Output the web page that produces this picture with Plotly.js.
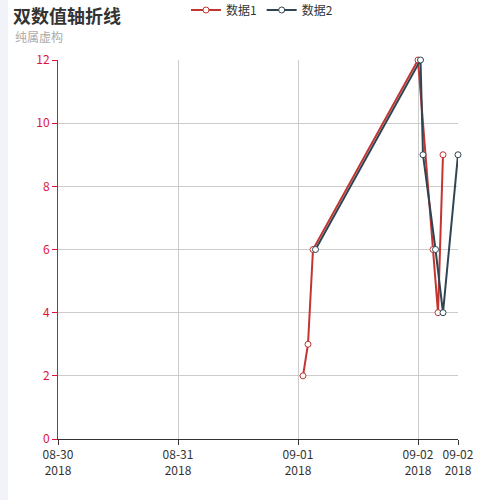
<!DOCTYPE html>
<html>
<head>
<meta charset="utf-8">
<script src="https://cdn.plot.ly/plotly-3.0.1.min.js"></script>
<style>
  html, body { margin: 0; padding: 0; background: #fff; }
  #chart { width: 500px; height: 500px; }
</style>
</head>
<body>
<div id="chart"></div>
<script>
// ── Datos ────────────────────────────────────────────────
const series1Name = '数据1';
const series1Time = ['2018-09-01 01:00', '2018-09-01 02:00', '2018-09-01 03:00',
                     '2018-09-02 00:00', '2018-09-02 03:00', '2018-09-02 04:00', '2018-09-02 05:00'];
const series1Vals = [2, 3, 6, 12, 6, 4, 9];

const series2Name = '数据2';
const series2Time = ['2018-09-01 03:30', '2018-09-02 00:30', '2018-09-02 01:00',
                     '2018-09-02 03:30', '2018-09-02 05:00', '2018-09-02 08:00'];
const series2Vals = [6, 12, 9, 6, 4, 9];

const xTickVals  = ['2018-08-30', '2018-08-31', '2018-09-01', '2018-09-02', '2018-09-02 08:00'];
const xTickText  = ['08-30<br>2018', '08-31<br>2018', '09-01<br>2018', '09-02<br>2018', '09-02<br>2018'];
const xRange     = ['2018-08-30 00:00', '2018-09-02 08:00'];

const RED  = '#c23531';
const DARK = '#2f4554';
const FONT = '"Noto Sans CJK SC", "Noto Sans", sans-serif';

function makeTrace(name, x, y, color) {
  return {
    type: 'scatter',
    mode: 'lines+markers',
    name, x, y,
    line:   { color, width: 2 },
    marker: { symbol: 'circle', size: 6, color: '#fff', line: { color, width: 1 } },
    cliponaxis: false
  };
}

const traces = [
  makeTrace(series1Name, series1Time, series1Vals, RED),
  makeTrace(series2Name, series2Time, series2Vals, DARK)
];

const layout = {
  width: 500,
  height: 500,
  paper_bgcolor: '#fff',
  plot_bgcolor:  '#fff',
  font: { family: FONT, color: '#333', size: 12 },
  margin: { l: 58, r: 42, t: 60, b: 61 },
  title: {
    text: '<b>双数值轴折线</b>',
    font: { size: 18, color: '#333', family: FONT },
    xref: 'container', yref: 'container',
    x: 13 / 500, y: 1 - 17 / 500,
    xanchor: 'left', yanchor: 'middle'
  },
  annotations: [{
    text: '纯属虚构',
    xref: 'paper', yref: 'paper',
    x: (13 - 58) / 400, y: (439 - 37) / 379,
    xanchor: 'left', yanchor: 'middle',
    showarrow: false,
    font: { size: 12, color: '#aaa', family: FONT }
  }],
  legend: {
    orientation: 'h',
    xref: 'container', yref: 'container',
    x: 186 / 500, y: 1 - 10 / 500,
    xanchor: 'left', yanchor: 'middle',
    font: { size: 12, color: '#333', family: FONT },
    itemwidth: 30,
    tracegroupgap: 0,
    bgcolor: 'rgba(0,0,0,0)'
  },
  xaxis: {
    type: 'date',
    range: xRange,
    tickvals: xTickVals,
    ticktext: xTickText,
    showgrid: true,
    gridcolor: '#ccc',
    showline: true,
    linecolor: '#333',
    ticks: 'outside',
    ticklen: 5,
    tickcolor: '#333',
    tickfont: { size: 12, color: '#333', family: FONT },
    zeroline: false,
    fixedrange: true
  },
  yaxis: {
    range: [0, 12],
    dtick: 2,
    showgrid: true,
    gridcolor: '#ccc',
    showline: true,
    linecolor: '#dc143c',
    ticks: 'outside',
    ticklen: 5,
    tickcolor: '#dc143c',
    tickfont: { size: 12, color: '#dc143c', family: FONT },
    zeroline: false,
    fixedrange: true
  },
  shapes: [{
    type: 'rect',
    xref: 'paper', yref: 'paper',
    x0: (0 - 58) / 400, x1: (8 - 58) / 400,
    y0: (439 - 500) / 379, y1: 439 / 379,
    fillcolor: '#f2f3f8',
    line: { width: 0 },
    layer: 'below'
  }],
  showlegend: true
};

Plotly.newPlot('chart', traces, layout, { displayModeBar: false, staticPlot: true });
</script>
</body>
</html>
